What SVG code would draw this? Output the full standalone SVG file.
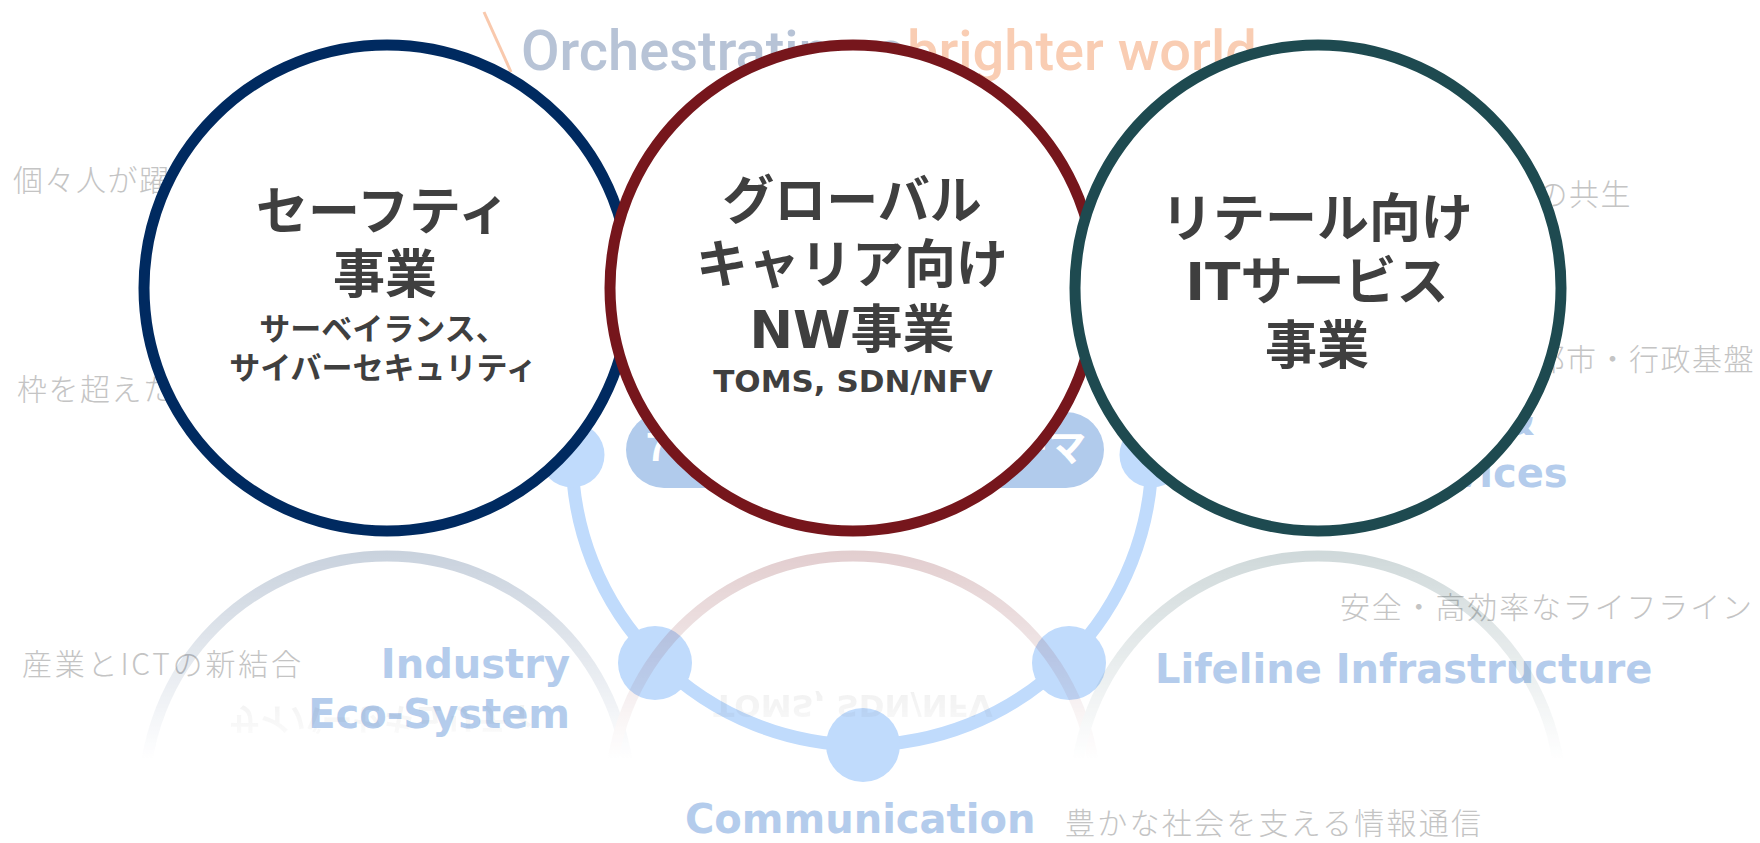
<svg xmlns="http://www.w3.org/2000/svg" xmlns:xlink="http://www.w3.org/1999/xlink" width="1760" height="843" viewBox="0 0 1760 843">
<defs>
<style>
.gray{font-family:"Noto Sans CJK JP",sans-serif;font-weight:300;font-size:30px;fill:#c4c4c4}
.blue{font-family:"DejaVu Sans","Noto Sans CJK JP",sans-serif;font-weight:700;font-size:40px;fill:#b4ccec}
.slogan{font-family:Roboto,"Liberation Sans",sans-serif;font-weight:500;font-size:56px}
.ring{fill:#fff;stroke-width:11}
.navy{stroke:#002a60}
.red{stroke:#76161c}
.teal{stroke:#1e4a50}
.title{font-family:"DejaVu Sans","Noto Sans CJK JP",sans-serif;font-weight:700;font-size:52px;fill:#3f3f3f;text-anchor:middle}
.sub{font-size:31px}
.link{fill:none;stroke:#c0dbfc;stroke-width:13}
.dot{fill:#c0dbfc}
.pill{fill:#b1cbec}
.pilltext{font-family:"Noto Sans CJK JP",sans-serif;font-weight:700;font-size:38px;fill:#fff;text-anchor:middle}
.refl{fill:none;stroke-width:11}
</style>
<linearGradient id="fadeGrad" x1="0" y1="545" x2="0" y2="760" gradientUnits="userSpaceOnUse">
<stop offset="0" stop-color="#fff" stop-opacity="0.22"/>
<stop offset="1" stop-color="#fff" stop-opacity="0"/>
</linearGradient>
<mask id="fade" maskUnits="userSpaceOnUse" x="0" y="540" width="1760" height="303">
<rect x="0" y="540" width="1760" height="303" fill="url(#fadeGrad)"/>
</mask>
</defs>
<rect width="1760" height="843" fill="#fff"/>

<!-- background slogan -->
<g id="slogan">
<line x1="484" y1="12" x2="511" y2="72" stroke="#f9c9ad" stroke-width="3"/>
<text class="slogan" x="521" y="70" fill="#b7c3d6">Orchestrating a</text>
<text class="slogan" x="907" y="70" fill="#f9cdb3">brighter world</text>
</g>

<!-- background theme texts -->
<g id="theme-texts">
<text class="gray" x="13" y="191" letter-spacing="1.5">個々人が躍</text>
<text class="gray" x="17" y="400" letter-spacing="1.5">枠を超えた</text>
<text class="gray" x="1632" y="205" text-anchor="end" letter-spacing="1.5">の共生</text>
<text class="gray" x="1755" y="370" text-anchor="end" letter-spacing="1.5">都市・行政基盤</text>
<text class="gray" x="22" y="675" textLength="279" lengthAdjust="spacing">産業とICTの新結合</text>
<text class="gray" x="1340" y="618" textLength="412" lengthAdjust="spacing">安全・高効率なライフライン</text>
<text class="gray" x="1065" y="834" textLength="416" lengthAdjust="spacing">豊かな社会を支える情報通信</text>
<text class="blue" x="570" y="678" text-anchor="end">Industry</text>
<text class="blue" x="570" y="728" text-anchor="end">Eco-System</text>
<text class="blue" x="1155" y="683">Lifeline Infrastructure</text>
<text class="blue" x="685" y="833">Communication</text>
<text class="blue" x="1226" y="435">Safer Cities &amp;</text>
<text class="blue" x="1226" y="487">Public Services</text>
</g>

<!-- theme pill -->
<g id="theme-pill">
<rect class="pill" x="626" y="412" width="478" height="76" rx="38"/>
<text class="pilltext" x="866" y="461">7つの社会価値創造テーマ</text>
</g>

<!-- connectors -->
<g id="connectors">
<path class="link" d="M572 455 A290 290 0 0 0 1152 455"/>
</g>

<g id="dot-top-left"><circle class="dot" cx="572" cy="455" r="32.5"/></g>
<g id="dot-top-right"><circle class="dot" cx="1152" cy="455" r="32.5"/></g>
<g id="dot-lower-left"><circle class="dot" cx="655" cy="663" r="37"/></g>
<g id="dot-lower-right"><circle class="dot" cx="1069" cy="663" r="37"/></g>
<g id="dot-bottom"><circle class="dot" cx="863" cy="745" r="37"/></g>

<!-- reflection -->
<g id="reflection" mask="url(#fade)">
<g transform="matrix(1 0 0 -1 0 1087)">
<circle class="refl navy" cx="387" cy="288" r="243"/>
<circle class="refl red" cx="853" cy="288" r="243"/>
<circle class="refl teal" cx="1318" cy="288" r="243"/>
<use xlink:href="#c1-l4"/>
<use xlink:href="#c2-l4"/>
</g>
</g>

<!-- main business nodes -->
<g id="node-safety">
<circle class="ring navy" cx="387" cy="288" r="243"/>
<text class="title" x="383" y="230">セーフティ</text>
<text class="title" x="385" y="293">事業</text>
<text class="title sub" x="383" y="340">サーベイランス、</text>
<text id="c1-l4" class="title sub" x="383" y="379">サイバーセキュリティ</text>
</g>

<g id="node-global-carrier">
<circle class="ring red" cx="853" cy="288" r="243"/>
<text class="title" x="852" y="219">グローバル</text>
<text class="title" x="852" y="283">キャリア向け</text>
<text class="title" x="852" y="348">NW事業</text>
<text id="c2-l4" class="title sub" x="853" y="392">TOMS, SDN/NFV</text>
</g>

<g id="node-retail">
<circle class="ring teal" cx="1318" cy="288" r="243"/>
<text class="title" x="1317" y="237">リテール向け</text>
<text class="title" x="1317" y="300">ITサービス</text>
<text class="title" x="1317" y="364">事業</text>
</g>
</svg>
